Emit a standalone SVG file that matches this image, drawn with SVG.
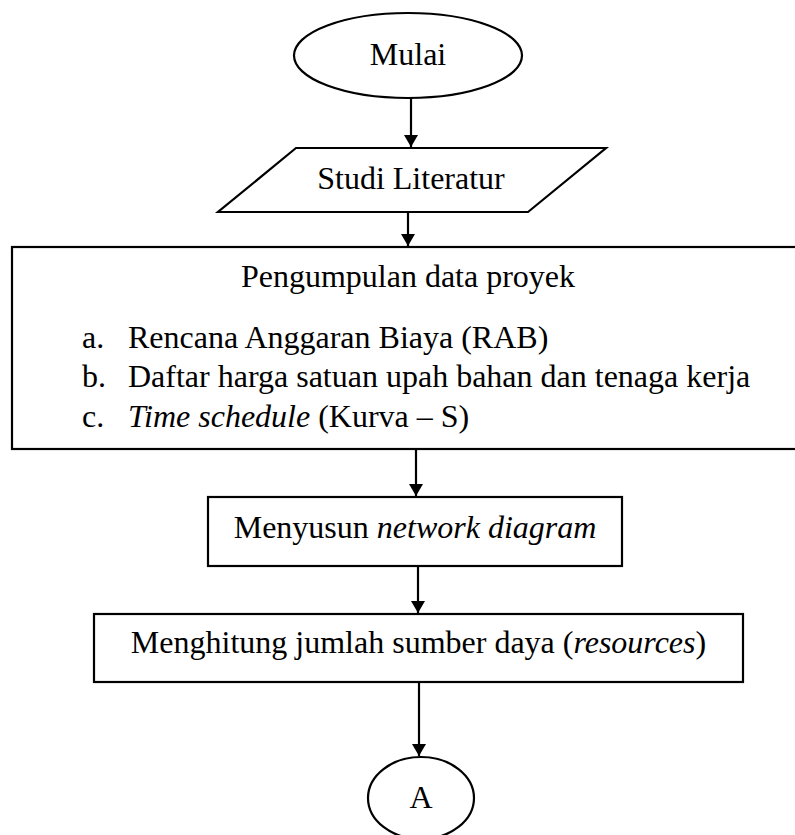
<svg xmlns="http://www.w3.org/2000/svg" width="795" height="835" viewBox="0 0 795 835">
<style>
.s{fill:#fff;stroke:#000;stroke-width:2.2}
.t{font-family:'Liberation Serif',Tinos,'Times New Roman',Times,'DejaVu Serif',serif;font-size:32px;fill:#000}
.c{stroke:#000;stroke-width:2.2;fill:none}
.i{font-style:italic}
</style>
<defs>
<marker id="ah" viewBox="0 0 12 14" refX="12" refY="7" markerWidth="12" markerHeight="14" markerUnits="userSpaceOnUse" orient="auto">
<path d="M0,0 L12,7 L0,14 Z" fill="#000"/>
</marker>
</defs>
<g id="connectors">
<line class="c" x1="411" y1="98" x2="411" y2="147" marker-end="url(#ah)"/>
<line class="c" x1="408" y1="212" x2="408" y2="246" marker-end="url(#ah)"/>
<line class="c" x1="416" y1="449" x2="416" y2="496" marker-end="url(#ah)"/>
<line class="c" x1="418" y1="566" x2="418" y2="613" marker-end="url(#ah)"/>
<line class="c" x1="419" y1="682" x2="419" y2="756" marker-end="url(#ah)"/>
</g>
<g id="mulai">
<ellipse class="s" cx="408" cy="55.5" rx="114" ry="42.5"/>
<text class="t" font-family="'Liberation Serif', serif" x="408" y="65" text-anchor="middle">Mulai</text>
</g>
<g id="studi">
<polygon class="s" points="296,148 606,148 528,212 218,212"/>
<text class="t" x="411" y="189" text-anchor="middle">Studi Literatur</text>
</g>
<g id="pengumpulan">
<rect class="s" x="12" y="247" width="790" height="202"/>
<text class="t" x="408" y="287" text-anchor="middle">Pengumpulan data proyek</text>
<text class="t" x="82" y="348">a.</text>
<text class="t" x="128" y="348">Rencana Anggaran Biaya (RAB)</text>
<text class="t" x="82" y="387">b.</text>
<text class="t" x="128" y="387">Daftar harga satuan upah bahan dan tenaga kerja</text>
<text class="t" x="82" y="427">c.</text>
<text class="t" x="128" y="427"><tspan class="i">Time schedule</tspan> (Kurva – S)</text>
</g>
<g id="menyusun">
<rect class="s" x="208" y="497" width="414" height="69"/>
<text class="t" x="415" y="538" text-anchor="middle">Menyusun <tspan class="i">network diagram</tspan></text>
</g>
<g id="menghitung">
<rect class="s" x="94" y="614" width="649" height="68"/>
<text class="t" x="418.5" y="653" text-anchor="middle">Menghitung jumlah sumber daya (<tspan class="i">resources</tspan>)</text>
</g>
<g id="a">
<ellipse class="s" cx="421" cy="798" rx="53" ry="41"/>
<text class="t" x="421" y="808" text-anchor="middle">A</text>
</g>
</svg>
